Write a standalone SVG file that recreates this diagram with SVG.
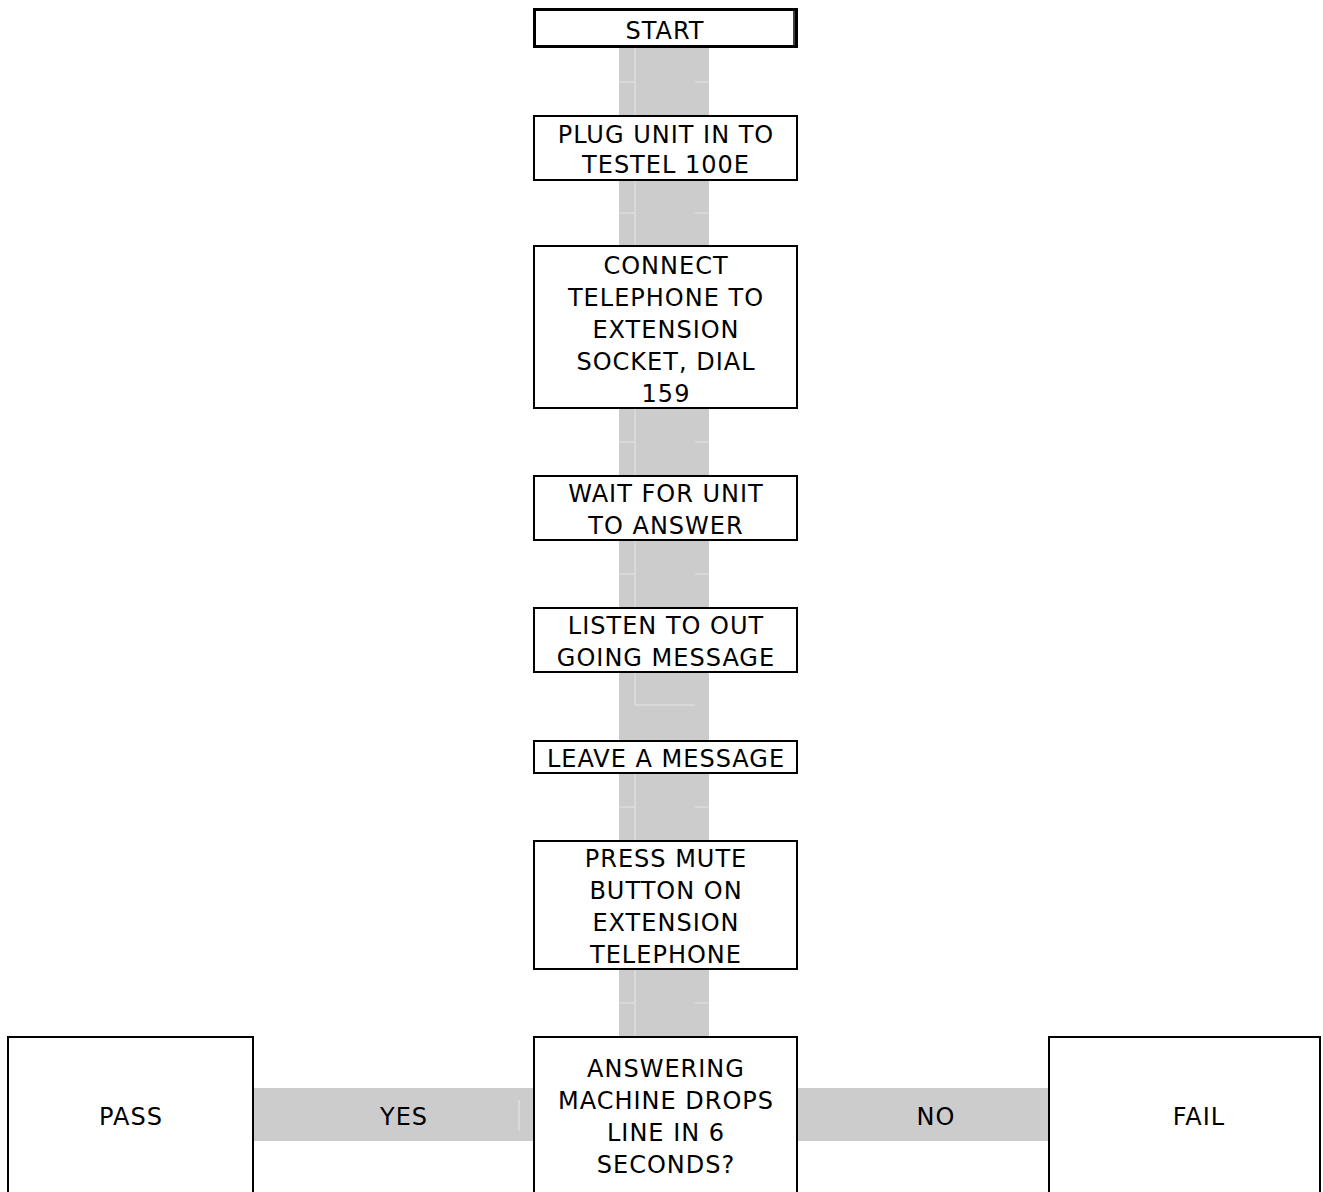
<svg xmlns="http://www.w3.org/2000/svg" width="1323" height="1192" viewBox="0 0 1323 1192">
<style>
.box{fill:#fff;stroke:#000;stroke-width:2}
.conn{fill:#cccccc;stroke:none}
.seam{stroke:#e6e6e6;stroke-width:1;fill:none}
text{font-family:"DejaVu Sans","Liberation Sans",sans-serif;font-size:24px;fill:#000;text-anchor:middle;letter-spacing:1px}
</style>
<rect width="1323" height="1192" fill="#fff"/>
<g id="connectors">
<rect class="conn" x="619" y="48" width="90" height="67"/>
<rect class="conn" x="619" y="181" width="90" height="64"/>
<rect class="conn" x="619" y="409" width="90" height="66"/>
<rect class="conn" x="619" y="541" width="90" height="66"/>
<rect class="conn" x="619" y="673" width="90" height="67"/>
<rect class="conn" x="619" y="774" width="90" height="66"/>
<rect class="conn" x="619" y="970" width="90" height="66"/>
<rect class="conn" x="253" y="1088" width="280" height="53"/>
<rect class="conn" x="798" y="1088" width="250" height="53"/>
<path class="seam" d="M635 48V115M619 82H635M695 82H709M635 181V245M619 213H635M695 213H709M635 409V475M619 442H635M695 442H709M635 541V607M619 574H635M695 574H709M635 673V705H695M635 774V840M619 807H635M695 807H709M635 970V1036M619 1003H635M695 1003H709M519 1100V1131"/>
<text x="404" y="1125">YES</text>
<text x="936" y="1125">NO</text>
</g>
<g id="start">
<rect x="534.5" y="9.5" width="262" height="37" fill="#fff" stroke="#000" stroke-width="3"/>
<line x1="794" y1="9" x2="794" y2="47" stroke="#000" stroke-width="1.5"/>
<rect x="791.5" y="11" width="1.5" height="34" fill="#fff"/>
<text x="665" y="39">START</text>
</g>
<g id="plug">
<rect class="box" x="534" y="116" width="263" height="64"/>
<text x="666" y="143">PLUG UNIT IN TO</text>
<text x="666" y="173">TESTEL 100E</text>
</g>
<g id="connect">
<rect class="box" x="534" y="246" width="263" height="162"/>
<text x="666" y="274">CONNECT</text>
<text x="666" y="306">TELEPHONE TO</text>
<text x="666" y="338">EXTENSION</text>
<text x="666" y="370">SOCKET, DIAL</text>
<text x="666" y="402">159</text>
</g>
<g id="wait">
<rect class="box" x="534" y="476" width="263" height="64"/>
<text x="666" y="502">WAIT FOR UNIT</text>
<text x="666" y="534">TO ANSWER</text>
</g>
<g id="listen">
<rect class="box" x="534" y="608" width="263" height="64"/>
<text x="666" y="634">LISTEN TO OUT</text>
<text x="666" y="666">GOING MESSAGE</text>
</g>
<g id="leave">
<rect class="box" x="534" y="741" width="263" height="32"/>
<text x="666" y="767">LEAVE A MESSAGE</text>
</g>
<g id="press">
<rect class="box" x="534" y="841" width="263" height="128"/>
<text x="666" y="867">PRESS MUTE</text>
<text x="666" y="899">BUTTON ON</text>
<text x="666" y="931">EXTENSION</text>
<text x="666" y="963">TELEPHONE</text>
</g>
<g id="decision">
<rect class="box" x="534" y="1037" width="263" height="170"/>
<text x="666" y="1077">ANSWERING</text>
<text x="666" y="1109">MACHINE DROPS</text>
<text x="666" y="1141">LINE IN 6</text>
<text x="666" y="1173">SECONDS?</text>
</g>
<g id="pass">
<rect class="box" x="8" y="1037" width="245" height="170"/>
<text x="131" y="1125">PASS</text>
</g>
<g id="fail">
<rect class="box" x="1049" y="1037" width="271" height="170"/>
<text x="1199" y="1125">FAIL</text>
</g>
</svg>
